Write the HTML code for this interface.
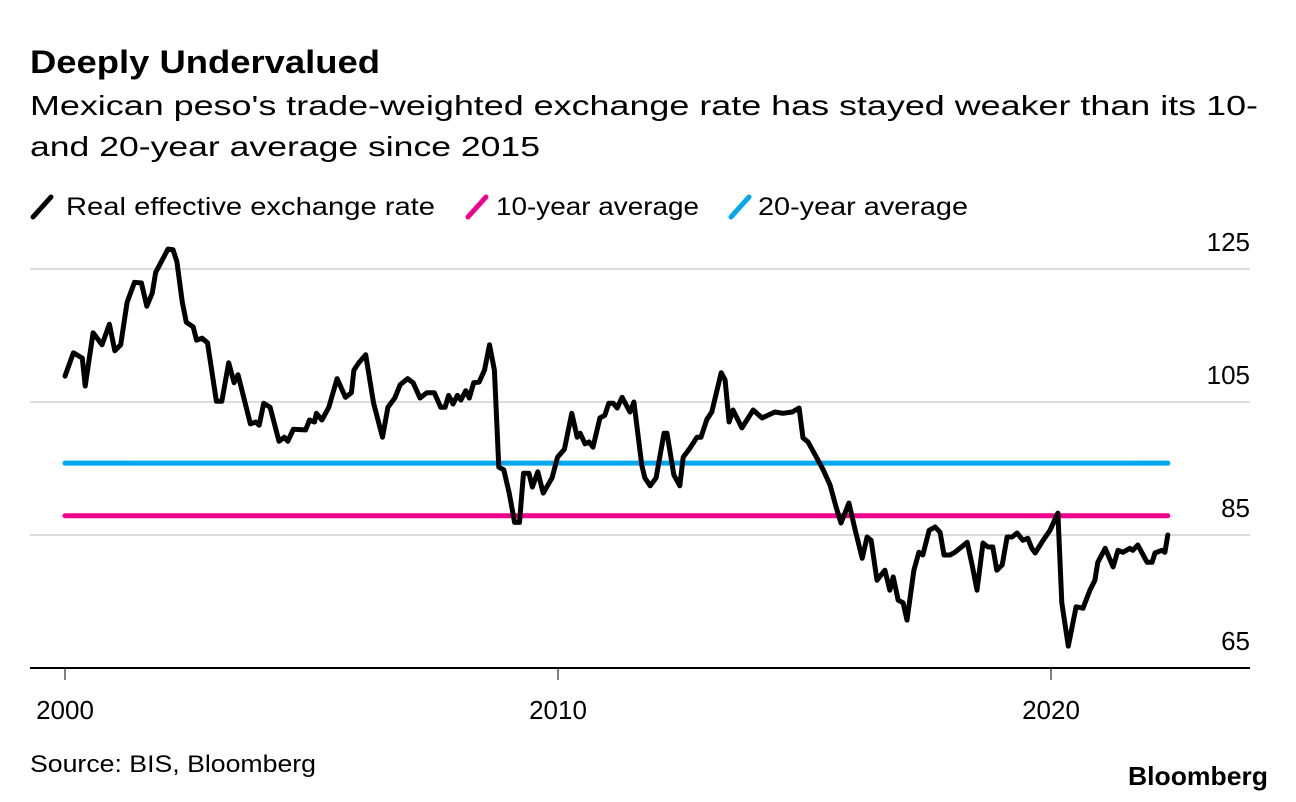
<!DOCTYPE html>
<html><head><meta charset="utf-8"><style>
html,body{margin:0;padding:0;background:#fff;}
svg{display:block;font-family:"Liberation Sans",sans-serif;}
</style></head><body>
<svg id="chart" width="1296" height="802" viewBox="0 0 1296 802" xmlns="http://www.w3.org/2000/svg">
<rect width="1296" height="802" fill="#fff"/>
<text x="30" y="73" font-size="32" font-weight="bold" textLength="350" lengthAdjust="spacingAndGlyphs">Deeply Undervalued</text>
<text x="30" y="115" font-size="28" textLength="1228" lengthAdjust="spacingAndGlyphs">Mexican peso's trade-weighted exchange rate has stayed weaker than its 10-</text>
<text x="30" y="156" font-size="28" textLength="510" lengthAdjust="spacingAndGlyphs">and 20-year average since 2015</text>
<g>
<g><line x1="33" y1="217" x2="51" y2="197" stroke="#000" stroke-width="5" stroke-linecap="round"/><text x="66" y="215" font-size="25" textLength="369" lengthAdjust="spacingAndGlyphs">Real effective exchange rate</text></g>
<g><line x1="468" y1="217" x2="486" y2="197" stroke="#f0008c" stroke-width="5" stroke-linecap="round"/><text x="496" y="215" font-size="25" textLength="203" lengthAdjust="spacingAndGlyphs">10-year average</text></g>
<g><line x1="731" y1="217" x2="749" y2="197" stroke="#00a8f0" stroke-width="5" stroke-linecap="round"/><text x="758" y="215" font-size="25" textLength="210" lengthAdjust="spacingAndGlyphs">20-year average</text></g>
</g>
<g id="grid"></g>
<g id="series"></g>
<g id="xaxis"></g>
<text x="30" y="772" font-size="24" textLength="286" lengthAdjust="spacingAndGlyphs">Source: BIS, Bloomberg</text>
<text x="1268" y="785" font-size="26" font-weight="bold" text-anchor="end" textLength="140" lengthAdjust="spacingAndGlyphs">Bloomberg</text>
</svg>
<script>
const yTicks = [125, 105, 85, 65];
const xTicks = [2000, 2010, 2020];
const avg10 = 87.9;
const avg20 = 95.8;
const avgStart = 2000.0, avgEnd = 2022.37;
const dates = [2000.00,2000.17,2000.35,2000.41,2000.57,2000.75,2000.90,2001.01,2001.13,2001.26,2001.41,2001.55,2001.66,2001.77,2001.84,2002.09,2002.19,2002.27,2002.38,2002.46,2002.60,2002.67,2002.78,2002.89,2003.07,2003.18,2003.32,2003.43,2003.51,2003.76,2003.87,2003.94,2004.03,2004.16,2004.34,2004.45,2004.52,2004.63,2004.88,2004.96,2005.06,2005.10,2005.21,2005.35,2005.52,2005.69,2005.81,2005.86,2005.97,2006.10,2006.26,2006.44,2006.55,2006.69,2006.80,2006.95,2007.06,2007.20,2007.34,2007.49,2007.62,2007.71,2007.78,2007.87,2007.96,2008.03,2008.13,2008.20,2008.29,2008.40,2008.51,2008.61,2008.71,2008.80,2008.90,2009.01,2009.12,2009.22,2009.30,2009.41,2009.48,2009.59,2009.70,2009.88,2009.99,2010.13,2010.28,2010.39,
2010.45,2010.55,2010.63,2010.71,2010.85,2010.95,2011.03,2011.12,2011.20,2011.30,2011.46,2011.54,2011.70,2011.76,2011.87,2011.99,2012.15,2012.21,2012.35,2012.47,2012.54,2012.68,2012.82,2012.90,2013.02,2013.12,2013.31,2013.39,2013.47,2013.55,2013.73,2013.96,2014.14,2014.40,2014.56,2014.75,2014.89,2014.97,2015.07,2015.25,2015.38,2015.52,2015.64,2015.74,2015.90,2015.98,2016.02,2016.17,2016.27,2016.35,2016.47,2016.63,2016.73,2016.80,2016.90,2017.00,2017.08,2017.22,2017.32,2017.40,2017.53,2017.65,2017.75,2017.83,2017.95,2018.05,2018.30,2018.40,2018.50,2018.62,2018.72,2018.82,2018.90,2019.01,2019.11,2019.21,2019.31,2019.43,2019.53,2019.61,2019.68,2019.84,2019.98,2020.14,2020.22,2020.35,2020.51,2020.65,2020.79,2020.89,2020.95,2021.10,2021.26,2021.36,2021.46,2021.60,2021.66,2021.76,2021.95,2022.05,2022.11,2022.25,2022.31,2022.37];
const reer = [108.9,112.4,111.6,107.4,115.4,113.6,116.7,112.7,113.6,120.0,123.0,122.9,119.4,121.4,124.5,128.0,127.9,126.1,120.0,117.0,116.3,114.3,114.6,113.9,105.1,105.1,110.9,107.9,109.1,101.7,102.0,101.5,104.8,104.2,99.1,99.7,99.1,100.9,100.8,102.3,102.0,103.3,102.3,104.2,108.5,105.7,106.4,109.8,111.0,112.1,104.8,99.7,104.2,105.6,107.6,108.5,107.9,105.6,106.4,106.4,104.2,104.2,106.0,104.7,106.0,105.3,106.7,105.6,107.9,108.0,109.8,113.6,109.8,95.2,94.8,91.3,86.9,86.9,94.3,94.3,92.2,94.5,91.3,93.6,96.7,97.9,103.3,99.7,
100.3,98.7,99.0,98.2,102.6,103.0,104.8,104.8,104.1,105.7,103.5,105.0,95.5,93.6,92.4,93.6,100.3,100.3,94.0,92.4,96.7,98.1,99.7,99.7,102.4,103.5,109.4,108.3,102.0,103.8,101.1,103.8,102.6,103.5,103.3,103.5,104.1,99.6,99.0,96.6,94.8,92.5,89.2,86.8,89.8,87.3,86.0,81.5,84.7,84.2,78.2,79.7,76.7,78.7,75.2,74.8,72.2,79.7,82.4,82.0,85.7,86.2,85.4,82.0,82.0,82.4,83.9,80.5,76.7,83.8,83.2,83.2,79.7,80.5,84.7,84.7,85.3,84.2,84.5,83.0,82.3,84.2,85.7,88.3,74.8,68.3,74.2,74.0,76.7,78.2,80.9,83.0,80.2,82.7,82.4,83.0,82.7,83.5,80.9,80.9,82.3,82.7,82.4,85.0];

const NS = "http://www.w3.org/2000/svg";
function xScale(t){ return 65 + (t - 2000) * 49.3; }
function yScale(v){ return 269 + (125 - v) * 6.65; }
function mk(tag, attrs, parent){ const e = document.createElementNS(NS, tag); for (const k in attrs) e.setAttribute(k, attrs[k]); parent.appendChild(e); return e; }

const grid = document.getElementById('grid');
yTicks.forEach(v => {
  const y = yScale(v);
  if (v !== 65) {
    const l = mk('line', {x1:30, x2:1250, y1:y, y2:y, stroke:'#dcdcdc', 'stroke-width':2}, grid);
    
    
  }
  const t = mk('text', {x:1250, y:y-18, 'font-size':26, 'text-anchor':'end'}, grid);
  t.textContent = v;
  
  
});

const series = document.getElementById('series');
const b = mk('line', {x1:xScale(avgStart), x2:xScale(avgEnd), y1:yScale(avg20), y2:yScale(avg20), stroke:'#00a8f0', 'stroke-width':5, 'stroke-linecap':'round'}, series);


const p = mk('line', {x1:xScale(avgStart), x2:xScale(avgEnd), y1:yScale(avg10), y2:yScale(avg10), stroke:'#f0008c', 'stroke-width':5, 'stroke-linecap':'round'}, series);


const d = dates.map((t,i) => (i ? 'L' : 'M') + xScale(t).toFixed(1) + ',' + yScale(reer[i]).toFixed(1)).join(' ');
const path = mk('path', {d:d, fill:'none', stroke:'#000', 'stroke-width':5, 'stroke-linejoin':'round', 'stroke-linecap':'round'}, series);



const xa = document.getElementById('xaxis');
const base = mk('line', {x1:30, x2:1250, y1:yScale(65), y2:yScale(65), stroke:'#000', 'stroke-width':2}, xa);


xTicks.forEach(t => {
  const x = xScale(t);
  const tk = mk('line', {x1:x, x2:x, y1:yScale(65), y2:yScale(65)+12, stroke:'#000', 'stroke-width':1}, xa);
  
  
  const lb = mk('text', {x:x, y:719, 'font-size':26, 'text-anchor':'middle'}, xa);
  lb.textContent = t;
  
  
});
</script>
</body></html>
